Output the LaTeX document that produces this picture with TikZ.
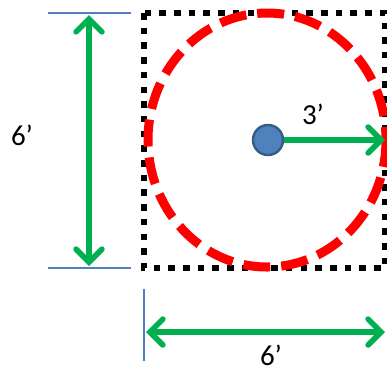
\documentclass[tikz,border=0pt]{standalone}
\usepackage{fontspec}
\setmainfont{Carlito}
\usetikzlibrary{arrows.meta}
\definecolor{dimgreen}{HTML}{00B050}
\definecolor{dimblue}{HTML}{4F81BD}
\definecolor{dotblue}{HTML}{4F81BD}
\definecolor{dotedge}{HTML}{385D8A}
\begin{document}
\begin{tikzpicture}[x=1pt,y=-1pt,
  extline/.style={draw=dimblue,line width=2.5pt},
  dimarrow/.style={draw=dimgreen,line width=5.5pt,
    arrows={Straight Barb[length=13pt,width=26pt,line cap=round]-Straight Barb[length=13pt,width=26pt,line cap=round]}},
  radarrow/.style={draw=dimgreen,line width=5.5pt,
    -{Straight Barb[length=13pt,width=26pt,line cap=round]}},
  dimlabel/.style={font=\fontsize{29}{29}\selectfont,inner sep=0pt}]
\useasboundingbox (0,0) rectangle (387,373);
% dotted square
\draw[line width=6pt,dash pattern=on 6.5pt off 8.2pt] (144,13) rectangle (385,268);
% dashed circle
\draw[red,line width=9pt,dash pattern=on 27pt off 11pt] (267,140) ellipse [x radius=119,y radius=127];
% centre and radius
\node[circle,fill=dotblue,draw=dotedge,line width=2.5pt,minimum size=30pt,inner sep=0pt] (c) at (268,140) {};
\coordinate (r) at (385,140);
\draw[radarrow] (c.east) -- (r);
\node[dimlabel] (l3) at (313,114) {3’};
% vertical dimension
\coordinate (t1) at (48,13); \coordinate (t2) at (131,13);
\coordinate (b1) at (48,268); \coordinate (b2) at (131,268);
\draw[extline] (t1) -- (t2);
\draw[extline] (b1) -- (b2);
\coordinate (vt) at (89,15); \coordinate (vb) at (89,266);
\draw[dimarrow] (vt) -- (vb);
\node[dimlabel] (l6a) at (22,135) {6’};
% horizontal dimension
\coordinate (h1) at (144,289); \coordinate (h2) at (144,361);
\draw[extline] (h1) -- (h2);
\coordinate (hl) at (146,332); \coordinate (hr) at (385,332);
\draw[dimarrow] (hl) -- (hr);
\node[dimlabel] (l6b) at (271,355) {6’};
\end{tikzpicture}
\end{document}
